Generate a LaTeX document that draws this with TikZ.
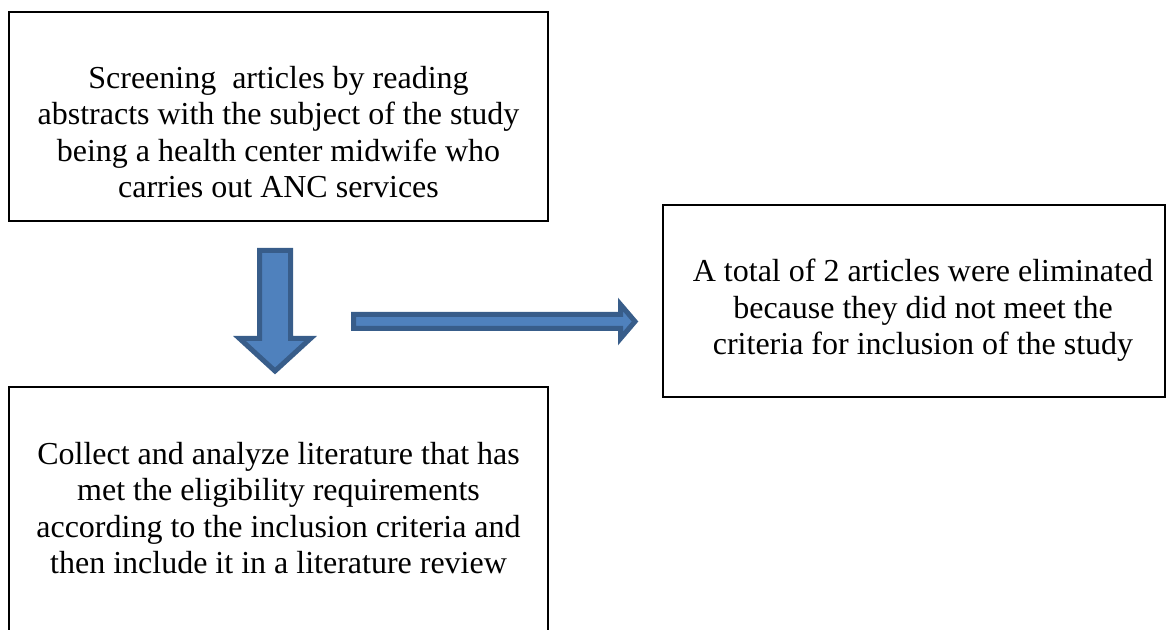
\documentclass[tikz,border=0pt]{standalone}
\usepackage{fontspec}
\setmainfont{Liberation Serif}
\usepackage{tikz}
\definecolor{arrowfill}{HTML}{4F81BD}
\definecolor{arrowline}{HTML}{385D8A}
\tikzset{
  boxnode/.style={draw=black, line width=1pt, inner sep=0pt},
  txtnode/.style={align=center, anchor=north, inner sep=0pt, font=\fontsize{24pt}{27.3pt}\selectfont},
  blockarrow/.style={fill=arrowfill, draw=arrowline, line width=3.75pt, line join=miter}
}
\begin{document}
\begin{tikzpicture}[x=0.75pt, y=-0.75pt]
\useasboundingbox (0,0) rectangle (1166,630);
\clip (0,0) rectangle (1166,630);
% the three boxes
\node[boxnode, minimum width=404.25pt, minimum height=156.75pt] (screenbox) at (278.5,116.5) {};
\node[boxnode, minimum width=376.5pt, minimum height=144pt] (elimbox) at (914,301) {};
\node[boxnode, minimum width=404.25pt, minimum height=204.75pt] (reviewbox) at (278.5,523.5) {};
\node[txtnode] (screen) at (278.5,66) {Screening\ \ articles by reading\\abstracts with the subject of the study\\being a health center midwife who\\carries out ANC services};
\node[txtnode] (elim) at (923,259) {A total of 2 articles were eliminated\\because they did not meet the\\criteria for inclusion of the study};
\node[txtnode] (review) at (278.5,442) {Collect and analyze literature that has\\met the eligibility requirements\\according to the inclusion criteria and\\then include it in a literature review};
% block arrows
\draw[blockarrow] (259.5,250.5) -- (290.5,250.5) -- (290.5,338.5) -- (310.5,338.5) -- (275,371) -- (239.5,338.5) -- (259.5,338.5) -- cycle;
\draw[blockarrow] (353.5,314.5) -- (620.5,314.5) -- (620.5,304.5) -- (635,321.5) -- (620.5,338.5) -- (620.5,328.5) -- (353.5,328.5) -- cycle;
\end{tikzpicture}
\end{document}
